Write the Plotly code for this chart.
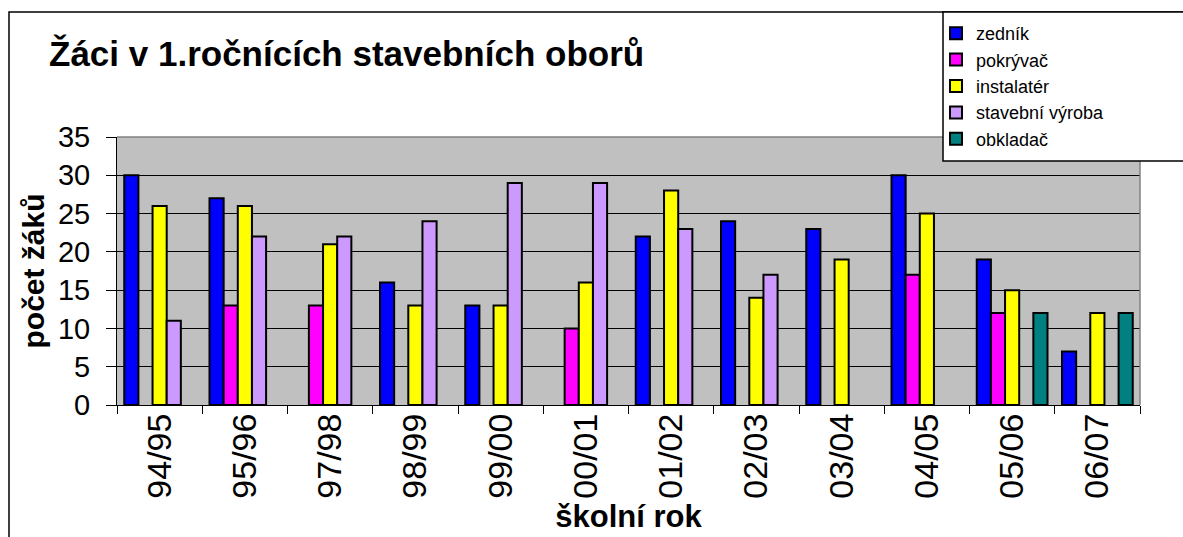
import plotly.graph_objects as go

# -- Data --
SCHOOL_YEARS = ["94/95", "95/96", "97/98", "98/99", "99/00", "00/01",
                "01/02", "02/03", "03/04", "04/05", "05/06", "06/07"]

ZEDNIK = [30, 27, None, 16, 13, None, 22, 24, 23, 30, 19, 7]
POKRYVAC = [None, 13, 13, None, None, 10, None, None, None, 17, 12, None]
INSTALATER = [26, 26, 21, 13, 13, 16, 28, 14, 19, 25, 15, 12]
STAVEBNI_VYROBA = [11, 22, 22, 24, 29, 29, 23, 17, None, None, None, None]
OBKLADAC = [None, None, None, None, None, None, None, None, None, None, 12, 12]

SERIES_NAMES = ["zedník", "pokrývač", "instalatér", "stavební výroba", "obkladač"]
SERIES_COLORS = ["#0000FF", "#FF00FF", "#FFFF00", "#CC99FF", "#008080"]

Y_TICKS = [0, 5, 10, 15, 20, 25, 30, 35]

# -- Layout constants (pixels) --
W, H = 1183, 537
PLOT_L, PLOT_R, PLOT_T, PLOT_B = 117, 1140, 137, 405
FONT = "Liberation Sans, Arial, sans-serif"


def px_x(x):
    # pixel -> paper fraction (horizontal)
    return (x - PLOT_L) / (PLOT_R - PLOT_L)


def px_y(y):
    # pixel -> paper fraction (vertical)
    return (PLOT_B - y) / (PLOT_B - PLOT_T)


fig = go.Figure()

for name, values, color in zip(
    SERIES_NAMES,
    [ZEDNIK, POKRYVAC, INSTALATER, STAVEBNI_VYROBA, OBKLADAC],
    SERIES_COLORS,
):
    fig.add_trace(
        go.Bar(
            x=SCHOOL_YEARS,
            y=values,
            name=name,
            marker=dict(color=color, line=dict(color="black", width=2)),
        )
    )

fig.update_layout(
    width=W,
    height=H,
    barmode="group",
    bargap=0.17,
    bargroupgap=0,
    paper_bgcolor="white",
    plot_bgcolor="#C0C0C0",
    margin=dict(l=PLOT_L, r=W - PLOT_R, t=PLOT_T, b=H - PLOT_B, autoexpand=False),
    font=dict(family=FONT, color="black"),
    title=dict(
        text="<b>Žáci v 1.ročnících stavebních oborů</b>",
        font=dict(size=35, family=FONT, color="black"),
        x=49 / W, xanchor="left", xref="container",
        y=1 - 54 / H, yanchor="middle", yref="container",
    ),
    legend=dict(
        x=px_x(936), xanchor="left",
        y=px_y(15), yanchor="top",
        bgcolor="rgba(0,0,0,0)",
        borderwidth=0,
        font=dict(size=18, family=FONT, color="black"),
        itemwidth=30,
        tracegroupgap=0,
        traceorder="normal",
    ),
    showlegend=True,
)

fig.update_xaxes(
    showline=True, linecolor="black", linewidth=1,
    ticks="outside", tickson="boundaries", ticklen=8, tickcolor="black",
    tickangle=-90,
    tickfont=dict(size=34, family=FONT, color="black"),
    ticklabelstandoff=-6,
    showgrid=False,
    title=dict(text="<b>školní rok</b>", font=dict(size=31, family=FONT, color="black"),
               standoff=2),
)

fig.update_yaxes(
    range=[0, 35],
    tickvals=Y_TICKS,
    showline=True, linecolor="black", linewidth=1,
    ticks="outside", ticklen=10, tickcolor="black",
    ticklabelstandoff=10,
    tickfont=dict(size=29, family=FONT, color="black"),
    showgrid=True, gridcolor="black", gridwidth=1,
    zeroline=False,
    title=dict(text="<b>počet žáků</b>", font=dict(size=30, family=FONT, color="black"),
               standoff=4),
)

# -- Outer chart frame (left + top edges visible, rest runs off the picture) --
fig.add_shape(
    type="rect", xref="paper", yref="paper", layer="below",
    x0=px_x(9), x1=px_x(W + 20), y0=px_y(H + 20), y1=px_y(12),
    line=dict(color="black", width=1.5), fillcolor="rgba(0,0,0,0)",
)

# -- Plot area top and right edges in grey --
fig.add_shape(
    type="line", xref="paper", yref="paper", layer="above",
    x0=0, x1=1, y0=1, y1=1, line=dict(color="#808080", width=1.5),
)
fig.add_shape(
    type="line", xref="paper", yref="paper", layer="above",
    x0=1, x1=1, y0=0, y1=1, line=dict(color="#808080", width=1.5),
)

# -- Legend box (runs off the right edge like in the source) --
fig.add_shape(
    type="rect", xref="paper", yref="paper", layer="above",
    x0=px_x(943), x1=px_x(W + 20), y0=px_y(161), y1=px_y(12),
    line=dict(color="black", width=1.5), fillcolor="white",
)

# page has a default 8px body margin; drop it so the figure sits at 0,0
fig.write_html(
    "out.html",
    config={"displayModeBar": False},
    post_script="document.body.style.margin = '0';",
)
